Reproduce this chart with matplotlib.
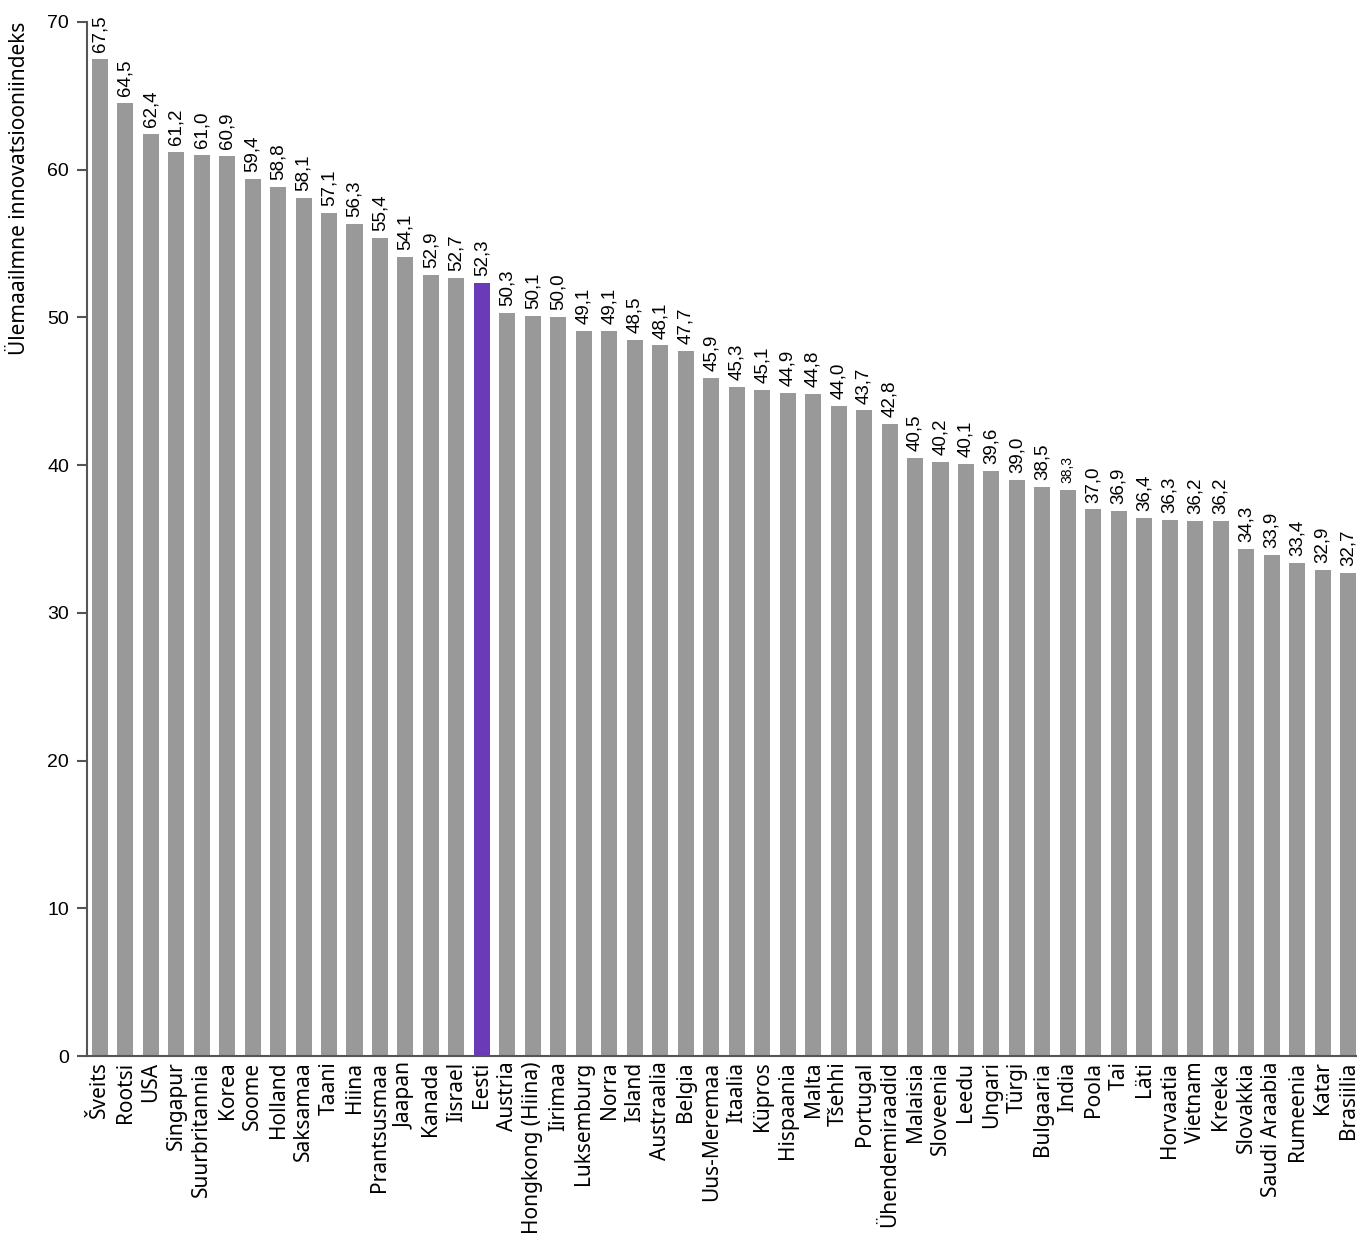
import matplotlib.pyplot as plt
import numpy as np

# Andmed
riigid = ['Šveits', 'Rootsi', 'USA', 'Singapur', 'Suurbritannia', 'Korea', 'Soome',
          'Holland', 'Saksamaa', 'Taani', 'Hiina', 'Prantsusmaa', 'Jaapan', 'Kanada',
          'Iisrael', 'Eesti', 'Austria', 'Hongkong (Hiina)', 'Iirimaa', 'Luksemburg',
          'Norra', 'Island', 'Austraalia', 'Belgia', 'Uus-Meremaa', 'Itaalia', 'Küpros',
          'Hispaania', 'Malta', 'Tšehhi', 'Portugal', 'Ühendemiraadid', 'Malaisia',
          'Sloveenia', 'Leedu', 'Ungari', 'Türgi', 'Bulgaaria', 'India', 'Poola', 'Tai',
          'Läti', 'Horvaatia', 'Vietnam', 'Kreeka', 'Slovakkia', 'Saudi Araabia',
          'Rumeenia', 'Katar', 'Brasiilia']
indeks = [67.5, 64.5, 62.4, 61.2, 61.0, 60.9, 59.4, 58.8, 58.1, 57.1, 56.3, 55.4,
          54.1, 52.9, 52.7, 52.3, 50.3, 50.1, 50.0, 49.1, 49.1, 48.5, 48.1, 47.7,
          45.9, 45.3, 45.1, 44.9, 44.8, 44.0, 43.7, 42.8, 40.5, 40.2, 40.1, 39.6,
          39.0, 38.5, 38.3, 37.0, 36.9, 36.4, 36.3, 36.2, 36.2, 34.3, 33.9, 33.4,
          32.9, 32.7]
esile = 'Eesti'
vaike_silt = 'India'  # selle riigi väärtus on joonisel väiksema kirjaga

HALL = '#999999'
LILLA = '#6a3ab8'
KIRI = 'Noto Sans'

fig = plt.figure(figsize=(13.57, 12.34), dpi=100)
ax = fig.add_axes([0.0641, 0.1442, 0.935, 0.838])

x = np.arange(len(riigid))
varvid = [LILLA if r == esile else HALL for r in riigid]
ax.bar(x, indeks, width=0.63, color=varvid, edgecolor='none')

# väärtuste sildid tulpade kohal
for xi, v, r in zip(x, indeks, riigid):
    suurus = 10 if r == vaike_silt else 13.5
    ax.annotate(f'{v:.1f}'.replace('.', ','), (xi, v), xytext=(0, 5),
                textcoords='offset points', rotation=90, ha='center', va='bottom',
                fontsize=suurus, family='Liberation Sans')

ax.set_xlim(-0.5, len(riigid) - 0.7)
ax.set_ylim(0, 70)
ax.set_yticks(range(0, 71, 10))
ax.set_xticks(x)
ax.set_xticklabels(riigid, rotation=90, fontsize=15, family=KIRI)
ax.tick_params(axis='x', length=0, pad=4)
ax.tick_params(axis='y', length=7, width=1.5, color='#555555', labelsize=14, pad=6)
for lab in ax.get_yticklabels():
    lab.set_family('Liberation Sans')

ax.set_ylabel('Ülemaailmne innovatsiooniindeks', fontsize=15, family=KIRI,
              loc='top', labelpad=12)

for s in ['top', 'right']:
    ax.spines[s].set_visible(False)
for s in ['left', 'bottom']:
    ax.spines[s].set_color('#555555')
    ax.spines[s].set_linewidth(1.5)

fig.savefig('out.png', dpi=100)
